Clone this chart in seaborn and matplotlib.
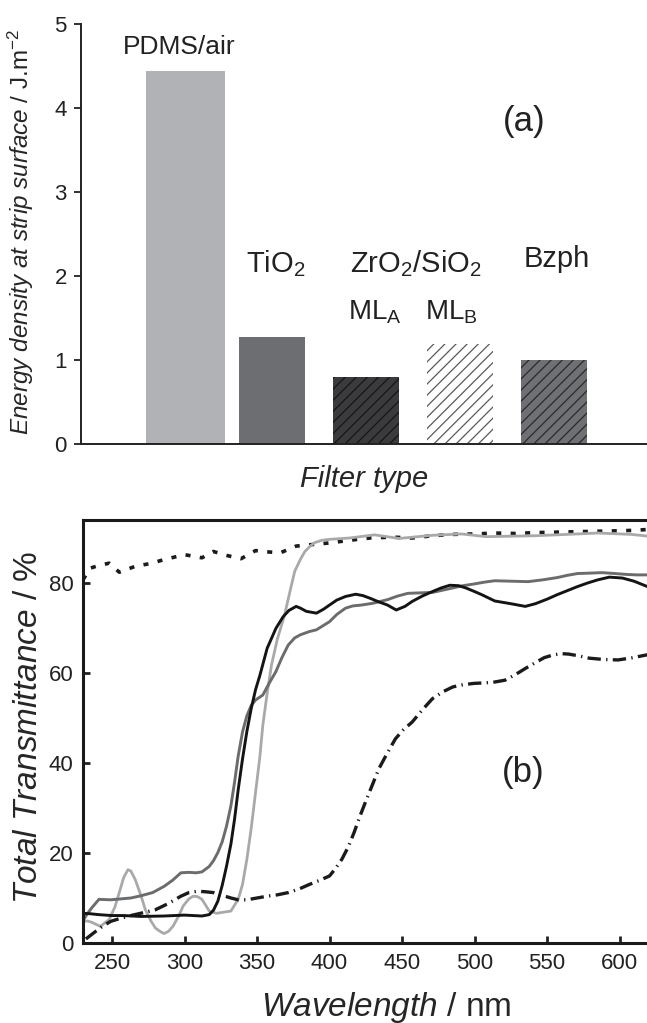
import numpy as np
import pandas as pd
import matplotlib
matplotlib.use("Agg")
import matplotlib.pyplot as plt
import seaborn as sns

# ------------------------------------------
# 1. Data
# ------------------------------------------

# (a) energy density at strip surface
filters = ["PDMS/air", "TiO2", "MLA", "MLB", "Bzph"]
energy = [4.44, 1.27, 0.80, 1.19, 1.00]
bar_faces = ["#b1b2b6", "#6d6e72", "#3b3b3d", "#ffffff", "#6f7073"]
bar_hatches = [None, None, "///", "///", "///"]
hatch_cols = ["#b1b2b6", "#6d6e72", "#161616", "#5a5a5a", "#2a2a2a"]

# (b) total transmittance curves
wl_dot = [230, 235, 240, 248, 255, 266, 276, 286, 300, 312, 320, 328, 339, 349, 354,
          366, 377, 390, 400, 414, 428, 443, 457, 471, 485, 500, 514, 528, 542, 557,
          571, 585, 599, 610, 620]
tt_dot = [80.7, 83.3, 83.8, 84.4, 82.4, 83.7, 84.3, 85.2, 86.3, 85.6, 87.0, 86.2, 85.4, 87.2, 87.0,
          86.7, 88.2, 88.6, 88.9, 89.5, 90.0, 90.2, 90.0, 90.5, 90.8, 90.9, 91.1, 91.0, 91.2, 91.3,
          91.4, 91.5, 91.6, 91.7, 91.9]

wl_light = [230, 233, 236, 242, 248, 252, 255, 258, 261, 263, 266, 270, 273, 277, 280,
            284, 286, 289, 292, 296, 299, 303, 306, 309, 312, 315, 317, 322, 326, 332,
            337, 340, 343, 346, 349, 352, 354, 357, 360, 364, 369, 373, 376, 380, 383,
            387, 390, 395, 400, 414, 431, 448, 471, 491, 508, 542, 571, 585, 608, 620]
tt_light = [4.8, 4.9, 4.6, 3.7, 5.2, 8.0, 11.2, 14.5, 16.3, 16.0, 14.1, 10.5, 7.4, 4.8, 3.3,
            2.4, 2.1, 2.6, 3.7, 6.0, 8.2, 9.8, 10.4, 10.3, 9.7, 8.2, 7.1, 6.6, 6.8, 7.1,
            9.7, 13.0, 18.6, 25.5, 33.5, 41.5, 48.4, 55.5, 61.8, 67.5, 72.9, 78.5, 82.6, 85.3, 87.0,
            88.3, 89.0, 89.5, 89.7, 90.0, 90.7, 89.9, 90.6, 90.9, 90.3, 90.5, 90.9, 91.1, 90.8, 90.4]

wl_black = [230, 235, 241, 250, 258, 270, 286, 300, 312, 317, 320, 323, 326, 329, 332,
            334.5, 337, 340, 343, 346, 349, 352, 357, 363, 368, 372, 377, 380, 384, 391,
            396, 400, 405, 411, 418, 423, 428, 434, 440, 446, 452, 457, 464, 471, 477,
            483, 489, 494, 500, 505, 514, 525, 535, 542, 550, 557, 564, 571, 578, 585,
            593, 602, 610, 620]
tt_black = [6.6, 6.5, 6.3, 6.1, 6.1, 5.9, 6.0, 6.2, 6.0, 6.3, 7.3, 9.3, 12.8, 17.1, 22.0,
            27.5, 34.0, 40.9, 47.0, 52.1, 56.3, 59.5, 65.5, 69.9, 72.5, 73.9, 74.8, 74.4, 73.7, 73.3,
            74.2, 75.1, 76.2, 77.0, 77.5, 77.2, 76.6, 75.8, 75.1, 74.0, 74.8, 75.9, 77.1, 78.1, 78.9,
            79.5, 79.4, 78.9, 78.1, 77.4, 76.0, 75.4, 74.8, 75.4, 76.4, 77.4, 78.3, 79.2, 80.0, 80.7,
            81.3, 81.1, 80.4, 79.1]

wl_mid = [230, 233, 236, 241, 249, 256, 263, 270, 278, 286, 292, 297.5, 303, 308, 312,
          317, 320, 323, 326, 329, 332, 334.5, 337, 340, 343, 346, 349, 354, 358, 363,
          367, 371.5, 376, 380, 386, 391, 396, 400, 405, 411, 416, 422, 430, 440, 447,
          454, 462, 471, 478, 485, 492, 500, 507, 514, 525, 537, 547, 557, 564, 571,
          580, 588, 597, 605, 612, 620]
tt_mid = [5.0, 6.5, 7.8, 9.7, 9.6, 9.8, 10.0, 10.5, 11.2, 12.6, 14.0, 15.6, 15.7, 15.6, 15.8,
          17.0, 18.3, 20.1, 22.5, 26.0, 30.5, 35.7, 41.5, 46.9, 50.5, 52.8, 54.0, 55.1, 57.5, 60.3,
          63.3, 66.2, 67.8, 68.5, 69.2, 69.6, 70.6, 71.4, 73.0, 74.4, 74.9, 75.1, 75.5, 76.3, 77.1,
          77.7, 77.8, 77.9, 78.4, 78.9, 79.4, 79.8, 80.2, 80.5, 80.4, 80.3, 80.7, 81.2, 81.7, 82.1,
          82.2, 82.3, 82.1, 81.9, 81.8, 81.8]

wl_dd = [232, 238, 243, 249, 256, 263, 271, 280, 289, 297.5, 303, 309, 314, 320, 326,
         332, 337, 343, 350, 357, 364, 371.5, 379, 386, 393, 400, 404, 408.5, 413, 417,
         421, 425.6, 430, 434, 440, 445.5, 451, 457, 464, 471, 478, 485, 492, 500, 507,
         514, 521, 528, 535, 542, 548, 554, 560, 565, 572, 579, 589, 599, 609, 620]
tt_dd = [0.9, 2.4, 3.6, 4.8, 5.5, 6.1, 6.7, 7.4, 8.8, 10.4, 11.2, 11.5, 11.4, 11.2, 10.6,
         10.0, 9.6, 9.6, 10.0, 10.4, 10.7, 11.2, 12.0, 13.0, 13.9, 14.9, 16.5, 18.6, 21.4, 24.6,
         28.2, 32.0, 35.5, 38.7, 42.3, 45.4, 47.4, 49.1, 51.8, 54.3, 55.8, 56.9, 57.4, 57.7, 57.8,
         58.0, 58.4, 59.6, 61.0, 62.3, 63.4, 64.0, 64.3, 64.2, 63.8, 63.3, 63.0, 62.9, 63.4, 64.1]

curves = [
    (wl_dot, tt_dot, "#1b1b1b", (0, (1.4, 2.6)), 2.6),
    (wl_light, tt_light, "#a8a9ab", "-", 2.0),
    (wl_mid, tt_mid, "#6b6c6e", "-", 2.1),
    (wl_dd, tt_dd, "#1b1b1b", (0, (4.0, 1.6, 0.4, 1.6)), 2.4),
    (wl_black, tt_black, "#141414", "-", 2.1),
]

# ------------------------------------------
# 2. Style
# ------------------------------------------

sns.set_style("ticks")
plt.rcParams["font.family"] = ["Liberation Sans", "DejaVu Sans"]
plt.rcParams["mathtext.fontset"] = "custom"
plt.rcParams["mathtext.rm"] = "Liberation Sans"
plt.rcParams["mathtext.it"] = "Liberation Sans:italic"
plt.rcParams["mathtext.bf"] = "Liberation Sans:bold"
plt.rcParams["hatch.linewidth"] = 0.9
plt.rcParams["text.color"] = "#222222"

fig = plt.figure(figsize=(6.47, 10.23), dpi=100)

# ------------------------------------------
# 3. (a) bar chart
# ------------------------------------------

ax1 = fig.add_axes([0.1247, 0.566, 0.8753, 0.4106])
df_bar = pd.DataFrame({"filter": filters, "energy": energy})
sns.barplot(data=df_bar, x="filter", y="energy", hue="filter", palette=bar_faces,
            legend=False, width=0.70, saturation=1, ax=ax1)

for patch, face, hatch, hcol in zip(ax1.patches, bar_faces, bar_hatches, hatch_cols):
    patch.set_facecolor(face)
    patch.set_edgecolor(hcol)
    patch.set_linewidth(0)
    if hatch:
        patch.set_hatch(hatch)

# first bar is wider than the others
ax1.patches[0].set_x(-0.34)
ax1.patches[0].set_width(0.84)

ax1.set_xlim(-1.035, 4.99)
ax1.set_ylim(0, 5)
ax1.set_xticks([])
ax1.set_yticks([0, 1, 2, 3, 4, 5])
ax1.tick_params(axis="y", direction="out", length=5, width=1.3, labelsize=16,
                pad=5, colors="#222222")
for side in ["top", "right"]:
    ax1.spines[side].set_visible(False)
for side in ["left", "bottom"]:
    ax1.spines[side].set_linewidth(1.4)
    ax1.spines[side].set_color("#222222")

ax1.set_ylabel(r"$\mathit{Energy\ density\ at\ strip\ surface}$ / J.m$^{-2}$", fontsize=17.5)
ax1.yaxis.set_label_coords(-0.079, 0.505)
ax1.set_xlabel("Filter type", fontsize=21, style="italic")
ax1.xaxis.set_label_coords(0.5, -0.051)

ax1.text(0.01, 4.64, "PDMS/air", fontsize=19, ha="center", va="baseline")
ax1.text(1.04, 2.04, r"TiO$_2$", fontsize=21, ha="center", va="baseline")
ax1.text(2.53, 2.04, r"ZrO$_2$/SiO$_2$", fontsize=21, ha="center", va="baseline")
ax1.text(2.09, 1.48, r"ML$_\mathrm{A}$", fontsize=20, ha="center", va="baseline")
ax1.text(2.91, 1.48, r"ML$_\mathrm{B}$", fontsize=20, ha="center", va="baseline")
ax1.text(4.03, 2.11, "Bzph", fontsize=21, ha="center", va="baseline")
ax1.text(0.784, 0.767, "(a)", fontsize=25, ha="center", va="center", transform=ax1.transAxes)

# ------------------------------------------
# 4. (b) transmittance spectra
# ------------------------------------------

ax2 = fig.add_axes([0.1283, 0.0782, 0.8763, 0.4135])
for wl, tt, col, ls, lw in curves:
    sns.lineplot(x=wl, y=tt, color=col, linestyle=ls, linewidth=lw,
                 sort=False, estimator=None, ax=ax2)

ax2.set_xlim(230, 621)
ax2.set_ylim(0, 94)
ax2.set_xticks([250, 300, 350, 400, 450, 500, 550, 600])
ax2.set_yticks([0, 20, 40, 60, 80])
ax2.tick_params(direction="in", length=5, width=2.0, labelsize=16, pad=7,
                colors="#222222")
for side in ["top", "right", "left", "bottom"]:
    ax2.spines[side].set_linewidth(2.2)
    ax2.spines[side].set_color("#1a1a1a")

ax2.set_ylabel(r"$\mathit{Total\ Transmittance}$ / %", fontsize=24)
ax2.yaxis.set_label_coords(-0.069, 0.51)
ax2.set_xlabel(r"$\mathit{Wavelength}$ / nm", fontsize=24)
ax2.xaxis.set_label_coords(0.534, -0.111)
ax2.text(0.777, 0.402, "(b)", fontsize=25, ha="center", va="center", transform=ax2.transAxes)

plt.savefig("out.png", dpi=100)
